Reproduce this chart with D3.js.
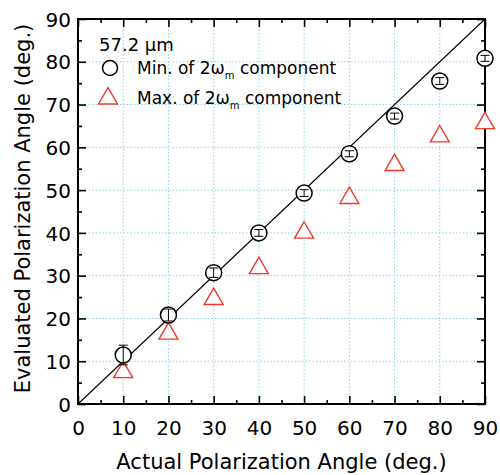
<!DOCTYPE html>
<html>
<head>
<meta charset="utf-8">
<script src="https://cdn.jsdelivr.net/npm/d3@7"></script>
<style>
  body { margin: 0; background: #fff; }
  text { font-family: "DejaVu Sans", Arial, sans-serif; fill: #000; }
</style>
</head>
<body>
<script>
var angles = [10, 20, 30, 40, 50, 60, 70, 80, 90];
var minVals = [11.45, 20.8, 30.7, 40.0, 49.3, 58.5, 67.3, 75.5, 80.8];
var minErr = [2.3, 1.4, 1.1, 0.8, 0.8, 0.7, 0.7, 0.8, 0.7];
var maxVals = [7.8, 16.8, 24.9, 32.1, 40.4, 48.5, 56.2, 62.9, 66.0];
var tickVals = [0, 10, 20, 30, 40, 50, 60, 70, 80, 90];
var gridVals = [10, 20, 30, 40, 50, 60, 70, 80];

var W = 500, H = 475;
var margin = {left: 78, top: 19, right: 15, bottom: 71};
var iw = W - margin.left - margin.right;
var ih = H - margin.top - margin.bottom;

var svg = d3.select("body").append("svg")
  .attr("width", W)
  .attr("height", H);

var g = svg.append("g")
  .attr("transform", "translate(" + margin.left + "," + margin.top + ")");

var x = d3.scaleLinear().domain([0, 90]).range([0, iw]);
var y = d3.scaleLinear().domain([0, 90]).range([ih, 0]);

// dotted grid
g.selectAll(".gx").data(gridVals).enter().append("line")
  .attr("x1", x).attr("x2", x).attr("y1", 0).attr("y2", ih)
  .attr("stroke", "#86d3e6").attr("stroke-width", 1).attr("stroke-dasharray", "1.5,2");
g.selectAll(".gy").data(gridVals).enter().append("line")
  .attr("y1", y).attr("y2", y).attr("x1", 0).attr("x2", iw)
  .attr("stroke", "#86d3e6").attr("stroke-width", 1).attr("stroke-dasharray", "1.5,2");

// y = x line
g.append("line")
  .attr("x1", x(0)).attr("y1", y(0)).attr("x2", x(90)).attr("y2", y(90))
  .attr("stroke", "#000").attr("stroke-width", 1.1);

// axes, ticks inward on all sides
var minor = d3.range(5, 90, 10);
function addAxis(axisFn, scale, tr, showLabels) {
  var major = axisFn(scale).tickValues(tickVals).tickSizeInner(-8).tickSizeOuter(0);
  var a = g.append("g").attr("transform", tr).call(major);
  a.select(".domain").remove();
  a.selectAll("line").attr("stroke", "#000").attr("stroke-width", 1.6);
  if (showLabels) {
    a.selectAll("text").style("font-size", "20px").style("font-family", "DejaVu Sans, Arial, sans-serif");
  } else {
    a.selectAll("text").remove();
  }
  var mn = g.append("g").attr("transform", tr)
    .call(axisFn(scale).tickValues(minor).tickSizeInner(-4).tickSizeOuter(0).tickFormat(""));
  mn.select(".domain").remove();
  mn.selectAll("line").attr("stroke", "#000").attr("stroke-width", 1.6);
  return a;
}
var bx = addAxis(d3.axisBottom, x, "translate(0," + ih + ")", true);
bx.selectAll("text").attr("dy", "0").attr("y", 31);
var ly = addAxis(d3.axisLeft, y, "translate(0,0)", true);
ly.selectAll("text").attr("x", -7).attr("dy", "0.36em");
addAxis(d3.axisTop, x, "translate(0,0)", false);
addAxis(d3.axisRight, y, "translate(" + iw + ",0)", false);

g.append("rect")
  .attr("width", iw).attr("height", ih)
  .attr("fill", "none").attr("stroke", "#000").attr("stroke-width", 2);

// triangles (max)
var tri = d3.symbol().type(d3.symbolTriangle).size(155);
g.selectAll(".tri").data(angles).enter().append("path")
  .attr("d", tri)
  .attr("transform", function(d, i) { return "translate(" + x(d) + "," + (y(maxVals[i]) + 1.5) + ")"; })
  .attr("fill", "#fff").attr("stroke", "#f03a2e").attr("stroke-width", 1.4);

// circles (min) with error bars
g.selectAll(".circ").data(angles).enter().append("circle")
  .attr("cx", x)
  .attr("cy", function(d, i) { return y(minVals[i]); })
  .attr("r", 8)
  .attr("fill", "#fff").attr("stroke", "#000").attr("stroke-width", 1.5);

var eb = g.selectAll(".eb").data(angles).enter().append("g");
eb.append("line")
  .attr("x1", x).attr("x2", x)
  .attr("y1", function(d, i) { return y(minVals[i] - minErr[i]); })
  .attr("y2", function(d, i) { return y(minVals[i] + minErr[i]); })
  .attr("stroke", "#000").attr("stroke-width", 1);
eb.append("line")
  .attr("x1", function(d) { return x(d) - 4.5; }).attr("x2", function(d) { return x(d) + 4.5; })
  .attr("y1", function(d, i) { return y(minVals[i] + minErr[i]); })
  .attr("y2", function(d, i) { return y(minVals[i] + minErr[i]); })
  .attr("stroke", "#000").attr("stroke-width", 1);
eb.append("line")
  .attr("x1", function(d) { return x(d) - 4.5; }).attr("x2", function(d) { return x(d) + 4.5; })
  .attr("y1", function(d, i) { return y(minVals[i] - minErr[i]); })
  .attr("y2", function(d, i) { return y(minVals[i] - minErr[i]); })
  .attr("stroke", "#000").attr("stroke-width", 1);

// legend
svg.append("text").attr("x", 99).attr("y", 51).style("font-size", "18px").text("57.2 \u03bcm");
svg.append("circle").attr("cx", 110).attr("cy", 68).attr("r", 7.5)
  .attr("fill", "#fff").attr("stroke", "#000").attr("stroke-width", 1.5);
svg.append("path").attr("d", tri).attr("transform", "translate(108,98.5)")
  .attr("fill", "#fff").attr("stroke", "#f03a2e").attr("stroke-width", 1.4);

function legendText(yy, label) {
  var t = svg.append("text").attr("x", 137).attr("y", yy).style("font-size", "17px");
  t.append("tspan").text(label + " of 2\u03c9");
  t.append("tspan").attr("dy", 5).style("font-size", "10px").text("m");
  t.append("tspan").attr("dy", -5).text(" component");
}
legendText(74, "Min.");
legendText(104, "Max.");

// axis titles
svg.append("text").attr("x", margin.left + iw / 2).attr("y", 469)
  .attr("text-anchor", "middle").style("font-size", "21px")
  .text("Actual Polarization Angle (deg.)");
svg.append("text")
  .attr("transform", "translate(30," + (margin.top + ih / 2 - 3) + ") rotate(-90)")
  .attr("text-anchor", "middle").style("font-size", "21px")
  .text("Evaluated Polarization Angle (deg.)");
</script>
</body>
</html>
